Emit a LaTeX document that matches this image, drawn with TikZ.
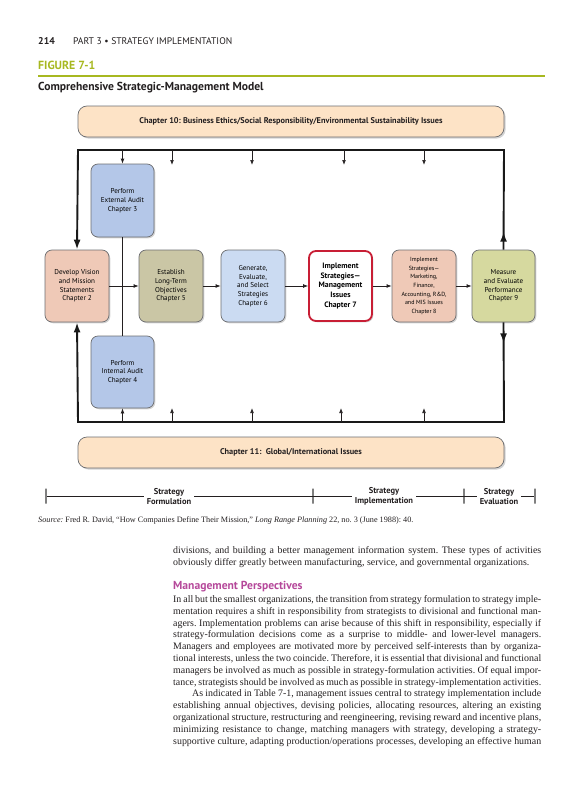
\documentclass[tikz,border=0pt]{standalone}
\usepackage{fontspec}
\setmainfont{Liberation Serif}
\newfontfamily\diag{PT Sans}
\usetikzlibrary{arrows.meta,shadows,decorations.markings}
\frenchspacing
\definecolor{figgreen}{HTML}{A7B820}
\definecolor{magen}{HTML}{B5489A}
\definecolor{peach}{HTML}{FDE3C6}
\definecolor{salmon}{HTML}{EFC9B7}
\definecolor{blueA}{HTML}{B4C7E8}
\definecolor{blueB}{HTML}{CBDBF2}
\definecolor{olive}{HTML}{CAC6A5}
\definecolor{lime}{HTML}{D6D99F}
\definecolor{redB}{HTML}{C81E35}
\definecolor{boxgray}{HTML}{6D6E71}
\definecolor{textgray}{HTML}{231F20}
\tikzset{
  box/.style={draw=boxgray, line width=0.7pt, rounded corners=7pt,
    minimum width=64pt, minimum height=72pt, inner sep=1pt, align=center,
    text=black, font=\diag\fontsize{7.1}{8.7}\selectfont,
    drop shadow={shadow xshift=1.3pt, shadow yshift=-1.3pt, opacity=0.35}},
  banner/.style={draw=boxgray, line width=0.7pt, rounded corners=9pt, fill=peach,
    minimum width=426pt, minimum height=31pt, inner sep=0pt, text=textgray,
    font=\diag\bfseries\fontsize{8.3}{9}\selectfont,
    drop shadow={shadow xshift=1.6pt, shadow yshift=-1.6pt, opacity=0.35}},
  framel/.style={line width=1.9pt, draw=black!90, line join=miter},
  flow/.style={line width=0.7pt, draw=textgray, -{Latex[length=5pt,width=3.8pt]}},
  plainline/.style={line width=0.7pt, draw=textgray},
  tickmark/.style={draw=gray, line width=1.2pt, minimum width=0pt, minimum height=15pt, inner sep=0pt},
  tlabel/.style={fill=white, inner sep=2.5pt, align=center, text=textgray,
    font=\diag\bfseries\fontsize{8.5}{9.6}\selectfont},
  bodyline/.style={anchor=base west, inner sep=0pt, text=textgray, font=\fontsize{9.9}{11}\selectfont},
  markup/.style={postaction={decorate, decoration={markings,
    mark=at position #1 with {\arrow{Latex[length=10pt,width=7pt]}}}}}
}
\begin{document}
\begin{tikzpicture}[x=1pt,y=-1pt]
\useasboundingbox (0,0) rectangle (576,800);
% header
\node[anchor=base west, inner sep=0pt, text=textgray, font=\diag\bfseries\fontsize{9.8}{11}\selectfont] (pg) at (38,45) {214};
\node[anchor=base west, inner sep=0pt, text=textgray, font=\diag\fontsize{9.6}{10}\selectfont] (part) at (73,45) {PART 3 \textbullet\ STRATEGY IMPLEMENTATION};
\node[anchor=base west, inner sep=0pt, text=figgreen, font=\diag\bfseries\fontsize{11.8}{13}\selectfont] (fig) at (38,70) {FIGURE 7-1};
\coordinate (gl1) at (38,76);
\coordinate (gl2) at (545,76);
\draw[figgreen, line width=1.3pt] (gl1) -- (gl2);
\node[anchor=base west, inner sep=0pt, text=textgray, font=\diag\bfseries\fontsize{11.6}{13}\selectfont] (title) at (38,90) {Comprehensive Strategic-Management Model};
% banners
\node[banner] (ch10) at (291,121.5) {Chapter 10: Business Ethics/Social Responsibility/Environmental Sustainability Issues};
\node[banner] (ch11) at (291,452.5) {Chapter 11:\ \ Global/International Issues};
% boxes
\node[box, fill=salmon] (dev) at (77,286) {Develop Vision\\and Mission\\Statements\\Chapter 2};
\node[box, fill=blueA, minimum width=63pt, minimum height=73pt] (ext) at (122.5,200.5) {Perform\\External Audit\\Chapter 3};
\node[box, fill=blueA, minimum width=63pt] (int) at (122.5,372) {Perform\\Internal Audit\\Chapter 4};
\node[box, fill=olive] (est) at (171,286) {Establish\\Long-Term\\Objectives\\Chapter 5};
\node[box, fill=blueB] (gen) at (253,286) {Generate,\\Evaluate,\\and Select\\Strategies\\Chapter 6};
\node[box, fill=white, draw=redB, line width=1.8pt, minimum width=63pt, minimum height=70pt,
  font=\diag\bfseries\fontsize{7.8}{9.7}\selectfont] (imp) at (340.5,286) {Implement\\Strategies—\\Management\\Issues\\Chapter 7};
\node[box, fill=salmon, font=\diag\fontsize{6}{8.7}\selectfont] (mis) at (424,286) {Implement\\Strategies—\\Marketing,\\Finance,\\Accounting, R\&D,\\and MIS Issues\\Chapter 8};
\node[box, fill=lime, minimum width=63pt] (meas) at (503.5,286) {Measure\\and Evaluate\\Performance\\Chapter 9};
% main flow
\draw[flow] (dev) -- (est);
\draw[flow] (est) -- (gen);
\draw[flow] (gen) -- (imp);
\draw[flow] (imp) -- (mis);
\draw[flow] (mis) -- (meas);
\draw[plainline] (ext) -- (int);
% frame
\coordinate (TL) at (78,150);
\coordinate (TR) at (504,150);
\coordinate (BL) at (78,422);
\coordinate (BR) at (504,422);
\draw[framel, markup=18pt, -{Latex[length=10pt,width=7pt]}] (meas.north) -- (TR) -- (TL) -- (dev.north);
\draw[framel, markup=21pt, -{Latex[length=10pt,width=7pt]}] (meas.south) -- (BR) -- (BL) -- (dev.south);
% small arrows from top line
\coordinate (ta1) at (122.5,150);
\draw[flow] (ta1) -- (ext.north);
\foreach \i/\xx in {2/172,3/252,4/344,5/424}{
  \coordinate (ta\i) at (\xx,150);
  \coordinate (tb\i) at (\xx,165);
  \draw[flow] (ta\i) -- (tb\i);
}
% small arrows from bottom line
\coordinate (ba1) at (122.5,422);
\draw[flow] (ba1) -- (int.south);
\foreach \i/\xx in {2/172,3/252,4/341,5/424}{
  \coordinate (ba\i) at (\xx,422);
  \coordinate (bb\i) at (\xx,408);
  \draw[flow] (ba\i) -- (bb\i);
}
% timeline
\node[tickmark] (k1) at (46,496) {};
\node[tickmark] (k2) at (313,496) {};
\node[tickmark] (k3) at (464,496) {};
\node[tickmark] (k4) at (535,496) {};
\draw[line width=0.8pt, textgray] (k1) -- (k4);
\node[tlabel] (lf) at (169,496.5) {Strategy\\Formulation};
\node[tlabel] (li) at (384,496.5) {Strategy\\Implementation};
\node[tlabel] (le) at (499,496.5) {Strategy\\Evaluation};
% source
\node[anchor=base west, inner sep=0pt, text=textgray, font=\fontsize{8.2}{10}\selectfont] (src) at (38,522)
  {\textit{Source:} Fred R. David, “How Companies Define Their Mission,” \textit{Long Range Planning} 22, no. 3 (June 1988): 40.};
% body text
\node[bodyline] (b1) at (173,553) {\makebox[368pt][s]{divisions, and building a better management information system. These types of activities}};
\node[bodyline] (b2) at (173,565) {obviously differ greatly between manufacturing, service, and governmental organizations.};
\node[anchor=base west, inner sep=0pt, text=magen, font=\diag\bfseries\fontsize{11.6}{13}\selectfont] (mp) at (173,589) {Management Perspectives};
\foreach \n/\t [count=\k from 0] in {
 b4/{In all but the smallest organizations, the transition from strategy formulation to strategy imple-},
 b5/{mentation requires a shift in responsibility from strategists to divisional and functional man-},
 b6/{agers. Implementation problems can arise because of this shift in responsibility, especially if},
 b7/{strategy-formulation decisions come as a surprise to middle- and lower-level managers.},
 b8/{Managers and employees are motivated more by perceived self-interests than by organiza-},
 b9/{tional interests, unless the two coincide. Therefore, it is essential that divisional and functional},
 b10/{managers be involved as much as possible in strategy-formulation activities. Of equal impor-},
 b11/{tance, strategists should be involved as much as possible in strategy-implementation activities.}}{
  \node[bodyline] (\n) at (173,602.5+11.8*\k) {\makebox[368pt][s]{\t}};
}
\node[bodyline] (b12) at (192,602.5+11.8*8) {\makebox[349pt][s]{As indicated in Table 7-1, management issues central to strategy implementation include}};
\foreach \n/\t [count=\k from 9] in {
 b13/{establishing annual objectives, devising policies, allocating resources, altering an existing},
 b14/{organizational structure, restructuring and reengineering, revising reward and incentive plans,},
 b15/{minimizing resistance to change, matching managers with strategy, developing a strategy-},
 b16/{supportive culture, adapting production/operations processes, developing an effective human}}{
  \node[bodyline] (\n) at (173,602.5+11.8*\k) {\makebox[368pt][s]{\t}};
}
\end{tikzpicture}
\end{document}
